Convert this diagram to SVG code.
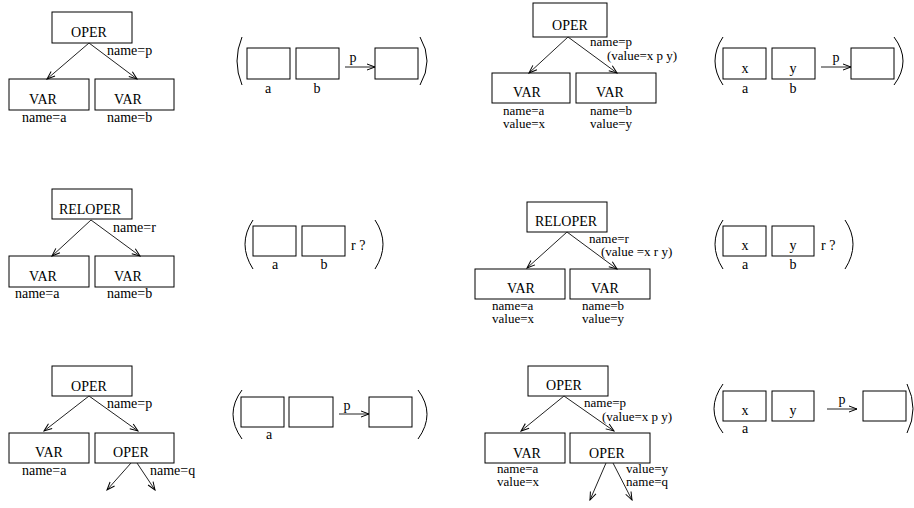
<svg xmlns="http://www.w3.org/2000/svg" width="914" height="508" viewBox="0 0 914 508">
<style>
.b{fill:none;stroke:#000;stroke-width:1}
.t{font-family:"Liberation Serif","Times New Roman",serif;font-size:14px;fill:#000}
.s{font-size:13px}
.m{text-anchor:middle}
.c{fill:none;stroke:#222;stroke-width:1}
.p{fill:none;stroke:#000;stroke-width:1}
</style>
<defs>
<marker id="ah" markerWidth="10" markerHeight="8" refX="9" refY="4" orient="auto" markerUnits="userSpaceOnUse">
<path d="M1,1 L9,4 L1,7" fill="none" stroke="#000" stroke-width="1"/>
</marker>
</defs>
<rect width="914" height="508" fill="#fff"/>

<!-- Panel 1 -->
<g id="p1-oper"><rect class="b" x="52" y="12" width="80" height="31"/><text class="t m" x="89" y="37">OPER</text><text class="t" x="107" y="55">name=p</text></g>
<g id="p1-var-a"><rect class="b" x="9" y="79" width="80" height="31"/><text class="t m" x="43" y="104">VAR</text><text class="t" x="22" y="122">name=a</text></g>
<g id="p1-var-b"><rect class="b" x="95" y="79" width="79" height="31"/><text class="t m" x="128" y="104">VAR</text><text class="t" x="107" y="122">name=b</text></g>
<g id="p1-array">
<path class="p" d="M242,37 Q232,61 242,85"/><path class="p" d="M420,37 Q434,61 420,85"/>
<rect class="b" x="247" y="48" width="43" height="31"/><rect class="b" x="296" y="48" width="43" height="31"/><rect class="b" x="375" y="48" width="43" height="31"/>
<text class="t m" x="353" y="62">p</text><text class="t m" x="268" y="93">a</text><text class="t m" x="317" y="93">b</text>
</g>

<!-- Panel 2 -->
<g id="p2-oper"><rect class="b" x="533" y="3" width="74" height="34"/><text class="t m" x="570" y="30">OPER</text><text class="t s" x="590" y="46">name=p</text><text class="t s" x="607" y="60">(value=x p y)</text></g>
<g id="p2-var-a"><rect class="b" x="492" y="73" width="78" height="30"/><text class="t m" x="527" y="97">VAR</text><text class="t s" x="503" y="115">name=a</text><text class="t s" x="503" y="128">value=x</text></g>
<g id="p2-var-b"><rect class="b" x="576" y="73" width="80" height="30"/><text class="t m" x="610" y="97">VAR</text><text class="t s" x="590" y="115">name=b</text><text class="t s" x="590" y="128">value=y</text></g>
<g id="p2-array">
<path class="p" d="M723,37 Q707,61 723,85"/><path class="p" d="M894,37 Q912,61 894,85"/>
<rect class="b" x="723" y="48" width="43" height="31"/><rect class="b" x="772" y="48" width="43" height="31"/><rect class="b" x="851" y="48" width="43" height="31"/>
<text class="t m" x="745" y="73">x</text><text class="t m" x="793" y="73">y</text>
<text class="t m" x="836" y="62">p</text><text class="t m" x="745" y="93">a</text><text class="t m" x="793" y="93">b</text>
</g>

<!-- Panel 3 -->
<g id="p3-reloper"><rect class="b" x="52" y="189" width="80" height="30"/><text class="t m" x="90" y="214">RELOPER</text><text class="t" x="113" y="232">name=r</text></g>
<g id="p3-var-a"><rect class="b" x="9" y="256" width="80" height="31"/><text class="t m" x="43" y="281">VAR</text><text class="t" x="15" y="298">name=a</text></g>
<g id="p3-var-b"><rect class="b" x="95" y="256" width="79" height="31"/><text class="t m" x="128" y="281">VAR</text><text class="t" x="107" y="298">name=b</text></g>
<g id="p3-array">
<path class="p" d="M253,220 Q237,244 253,269"/><path class="p" d="M375,220 Q391,244 375,269"/>
<rect class="b" x="253" y="226" width="43" height="30"/><rect class="b" x="302" y="226" width="43" height="30"/>
<text class="t" x="351" y="250">r ?</text><text class="t m" x="275" y="269">a</text><text class="t m" x="324" y="269">b</text>
</g>

<!-- Panel 4 -->
<g id="p4-reloper"><rect class="b" x="527" y="202" width="80" height="30"/><text class="t m" x="566" y="226">RELOPER</text><text class="t s" x="589" y="243">name=r</text><text class="t s" x="601" y="256">(value =x r y)</text></g>
<g id="p4-var-a"><rect class="b" x="475" y="269" width="90" height="30"/><text class="t m" x="521" y="293">VAR</text><text class="t s" x="492" y="310">name=a</text><text class="t s" x="492" y="323">value=x</text></g>
<g id="p4-var-b"><rect class="b" x="570" y="269" width="80" height="30"/><text class="t m" x="605" y="293">VAR</text><text class="t s" x="582" y="310">name=b</text><text class="t s" x="582" y="323">value=y</text></g>
<g id="p4-array">
<path class="p" d="M723,220 Q707,244 723,269"/><path class="p" d="M845,220 Q861,244 845,269"/>
<rect class="b" x="723" y="226" width="43" height="30"/><rect class="b" x="772" y="226" width="42" height="30"/>
<text class="t m" x="745" y="250">x</text><text class="t m" x="793" y="250">y</text>
<text class="t" x="821" y="250">r ?</text><text class="t m" x="745" y="269">a</text><text class="t m" x="793" y="269">b</text>
</g>

<!-- Panel 5 -->
<g id="p5-oper"><rect class="b" x="52" y="366" width="80" height="30"/><text class="t m" x="89" y="391">OPER</text><text class="t" x="107" y="408">name=p</text></g>
<g id="p5-var-a"><rect class="b" x="9" y="433" width="80" height="30"/><text class="t m" x="49" y="457">VAR</text><text class="t" x="22" y="475">name=a</text></g>
<g id="p5-oper-q"><rect class="b" x="95" y="433" width="79" height="30"/><text class="t m" x="131" y="457">OPER</text><text class="t" x="150" y="475">name=q</text></g>
<g id="p5-array">
<path class="p" d="M242,390 Q224,414 242,439"/><path class="p" d="M418,390 Q436,414 418,439"/>
<rect class="b" x="241" y="397" width="43" height="30"/><rect class="b" x="289" y="397" width="44" height="30"/><rect class="b" x="369" y="397" width="43" height="30"/>
<text class="t m" x="347" y="410">p</text><text class="t m" x="269" y="439">a</text>
</g>

<!-- Panel 6 -->
<g id="p6-oper"><rect class="b" x="528" y="366" width="80" height="30"/><text class="t m" x="564" y="390">OPER</text><text class="t s" x="584" y="407">name=p</text><text class="t s" x="602" y="421">(value=x p y)</text></g>
<g id="p6-var-a"><rect class="b" x="485" y="433" width="80" height="30"/><text class="t m" x="527" y="458">VAR</text><text class="t s" x="497" y="473">name=a</text><text class="t s" x="497" y="486">value=x</text></g>
<g id="p6-oper-q"><rect class="b" x="570" y="433" width="80" height="30"/><text class="t m" x="607" y="458">OPER</text><text class="t s" x="626" y="473">value=y</text><text class="t s" x="626" y="486">name=q</text></g>
<g id="p6-array">
<path class="p" d="M723,384 Q705,409 723,433"/><path class="p" d="M907,384 Q919,409 907,433"/>
<rect class="b" x="723" y="391" width="43" height="30"/><rect class="b" x="772" y="391" width="42" height="30"/><rect class="b" x="863" y="391" width="43" height="30"/>
<text class="t m" x="745" y="415">x</text><text class="t m" x="793" y="415">y</text>
<text class="t m" x="842" y="404">p</text><text class="t m" x="745" y="433">a</text>
</g>

<g id="connectors">
<line class="c" x1="89" y1="43" x2="47" y2="79" marker-end="url(#ah)"/>
<line class="c" x1="89" y1="43" x2="137" y2="79" marker-end="url(#ah)"/>
<line class="c" x1="345" y1="67" x2="375" y2="67" marker-end="url(#ah)"/>
<line class="c" x1="568" y1="37" x2="529" y2="73" marker-end="url(#ah)"/>
<line class="c" x1="568" y1="37" x2="617" y2="73" marker-end="url(#ah)"/>
<line class="c" x1="821" y1="67" x2="851" y2="67" marker-end="url(#ah)"/>
<line class="c" x1="91" y1="220" x2="52" y2="256" marker-end="url(#ah)"/>
<line class="c" x1="91" y1="220" x2="140" y2="256" marker-end="url(#ah)"/>
<line class="c" x1="567" y1="232" x2="527" y2="268" marker-end="url(#ah)"/>
<line class="c" x1="567" y1="232" x2="617" y2="269" marker-end="url(#ah)"/>
<line class="c" x1="89" y1="396" x2="44" y2="431" marker-end="url(#ah)"/>
<line class="c" x1="89" y1="396" x2="138" y2="431" marker-end="url(#ah)"/>
<line class="c" x1="131" y1="463" x2="107" y2="490" marker-end="url(#ah)"/>
<line class="c" x1="137" y1="463" x2="155" y2="490" marker-end="url(#ah)"/>
<line class="c" x1="339" y1="414" x2="369" y2="414" marker-end="url(#ah)"/>
<line class="c" x1="564" y1="396" x2="521" y2="431" marker-end="url(#ah)"/>
<line class="c" x1="564" y1="396" x2="614" y2="431" marker-end="url(#ah)"/>
<line class="c" x1="606" y1="463" x2="590" y2="500" marker-end="url(#ah)"/>
<line class="c" x1="613" y1="463" x2="632" y2="500" marker-end="url(#ah)"/>
<line class="c" x1="827" y1="409" x2="857" y2="409" marker-end="url(#ah)"/>
</g>
</svg>
